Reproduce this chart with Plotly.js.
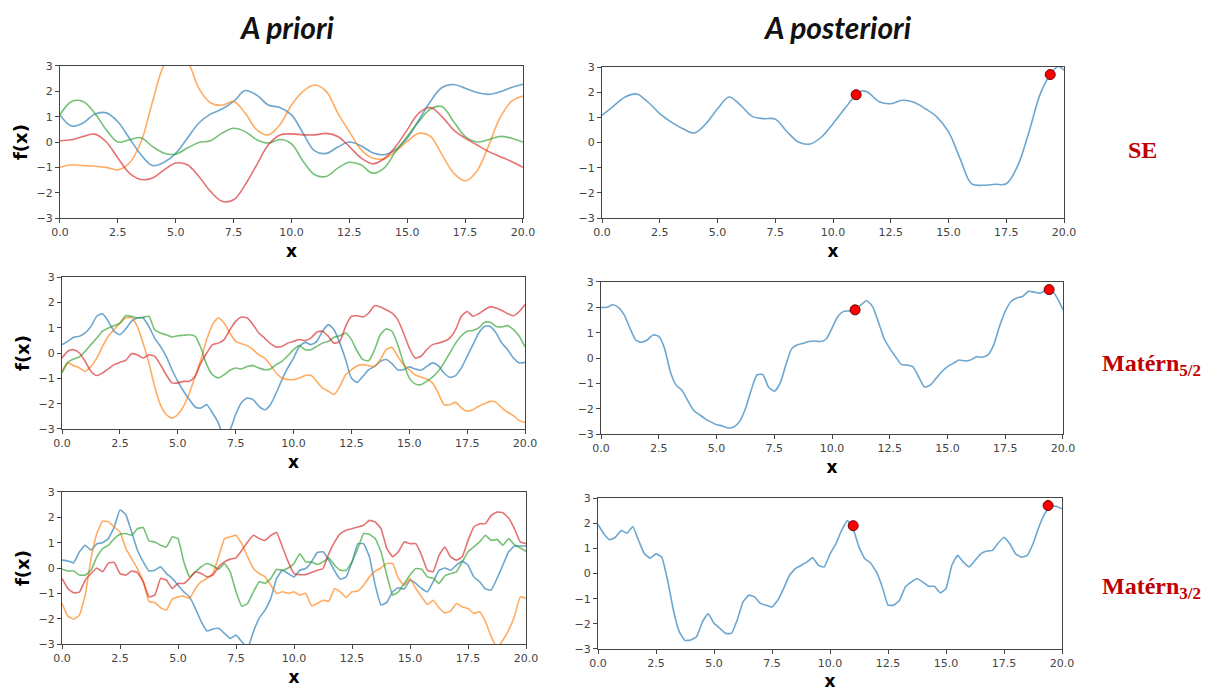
<!DOCTYPE html>
<html>
<head>
<meta charset="utf-8">
<script src="https://cdn.plot.ly/plotly-3.0.1.min.js"></script>
<style>
  html, body { margin: 0; padding: 0; background: #fff; }
  #chart { width: 1214px; height: 691px; }
</style>
</head>
<body>
<div id="chart"></div>
<script>
// Gaussian-process samples: prior draws (left) and posterior draws (right)
// for three kernels: squared exponential, Matérn 5/2 and Matérn 3/2.

const xTickVals = [0, 2.5, 5, 7.5, 10, 12.5, 15, 17.5, 20];
const xTickText = ['0.0', '2.5', '5.0', '7.5', '10.0', '12.5', '15.0', '17.5', '20.0'];
const yTickVals = [-3, -2, -1, 0, 1, 2, 3];

const columnTitles = ['A priori', 'A posteriori'];
const kernelNames = ['SE', 'Matérn', 'Matérn'];
const kernelSubs = ['', '5/2', '3/2'];

// Observed points conditioning the posterior
const obsX = [11.0, 19.4];
const obsY = [1.9, 2.7];

// ---- Squared exponential kernel (sampled every 0.5) ----
const xSE = [0, 0.5, 1, 1.5, 2, 2.5, 3, 3.5, 4, 4.5, 5, 5.5, 6, 6.5, 7, 7.5, 8, 8.5, 9, 9.5,
             10, 10.5, 11, 11.5, 12, 12.5, 13, 13.5, 14, 14.5, 15, 15.5, 16, 16.5, 17, 17.5, 18, 18.5, 19, 19.5, 20];

const sePriorBlue = [1.07, 0.63, 0.75, 1.1, 1.15, 0.8, 0.15, -0.5, -0.93, -0.8, -0.45, 0.15, 0.75, 1.1, 1.3, 1.6, 2.03, 1.85, 1.46, 1.36,
                     1.07, 0.35, -0.35, -0.45, -0.2, 0.0, -0.15, -0.42, -0.5, -0.3, 0.15, 0.87, 1.6, 2.15, 2.27, 2.12, 1.95, 1.88, 1.98, 2.15, 2.28];
const sePriorOrange = [-1.0, -0.9, -0.93, -0.96, -1.0, -1.1, -0.83, 0.0, 1.6, 3.05, 3.6, 3.2, 2.12, 1.55, 1.45, 1.6, 1.14, 0.48, 0.28, 0.68,
                       1.46, 2.0, 2.25, 2.0, 1.14, 0.41, -0.3, -0.63, -0.66, -0.37, 0.02, 0.34, 0.22, -0.5, -1.22, -1.53, -1.16, -0.18, 0.94, 1.6, 1.82];
const sePriorGreen = [1.07, 1.6, 1.6, 1.14, 0.48, 0.0, 0.09, 0.17, -0.18, -0.44, -0.48, -0.24, -0.02, 0.05, 0.35, 0.54, 0.41, 0.09, -0.04, 0.1,
                      -0.07, -0.76, -1.29, -1.36, -1.03, -0.8, -0.9, -1.23, -1.03, -0.37, 0.22, 0.81, 1.3, 1.4, 0.81, 0.22, 0.0, 0.09, 0.22, 0.15, 0.0];
const sePriorRed = [0.05, 0.09, 0.22, 0.31, 0.0, -0.63, -1.23, -1.48, -1.42, -1.1, -0.83, -0.9, -1.36, -1.95, -2.34, -2.28, -1.69, -0.9, -0.11, 0.28,
                    0.32, 0.28, 0.28, 0.34, 0.22, -0.18, -0.63, -0.86, -0.66, -0.18, 0.48, 1.14, 1.36, 1.0, 0.48, 0.15, -0.11, -0.37, -0.57, -0.77, -1.0];

const xSEPost = [0, 0.5, 1, 1.5, 2, 2.5, 3, 3.5, 4, 4.5, 5, 5.5, 6, 6.5, 7, 7.5, 8, 8.5, 9, 9.5,
                 10, 10.5, 11, 11.25, 11.5, 12, 12.5, 13, 13.5, 14, 14.5, 15, 15.5, 16, 16.5, 17, 17.5, 18, 18.5, 19, 19.5, 19.75, 20];
const sePost = [1.08, 1.45, 1.81, 1.93, 1.6, 1.15, 0.81, 0.55, 0.38, 0.75, 1.34, 1.81, 1.48, 1.04, 0.95, 0.93, 0.44, 0.02, -0.06, 0.22,
                0.75, 1.34, 1.9, 2.05, 2.0, 1.62, 1.54, 1.68, 1.6, 1.34, 1.01, 0.42, -0.64, -1.64, -1.7, -1.66, -1.64, -0.91, 0.48, 2.0, 2.82, 3.02, 2.87];

// ---- Matérn kernels (sampled every 0.25) ----
const xM = [0, 0.25, 0.5, 0.75, 1, 1.25, 1.5, 1.75, 2, 2.25, 2.5, 2.75, 3, 3.25, 3.5, 3.75, 4, 4.25, 4.5, 4.75,
            5, 5.25, 5.5, 5.75, 6, 6.25, 6.5, 6.75, 7, 7.25, 7.5, 7.75, 8, 8.25, 8.5, 8.75, 9, 9.25, 9.5, 9.75,
            10, 10.25, 10.5, 10.75, 11, 11.25, 11.5, 11.75, 12, 12.25, 12.5, 12.75, 13, 13.25, 13.5, 13.75, 14, 14.25, 14.5, 14.75,
            15, 15.25, 15.5, 15.75, 16, 16.25, 16.5, 16.75, 17, 17.25, 17.5, 17.75, 18, 18.25, 18.5, 18.75, 19, 19.25, 19.5, 19.75, 20];

const m52PriorBlue = [0.33, 0.46, 0.62, 0.66, 0.79, 1.05, 1.45, 1.55, 1.25, 0.86, 0.72, 0.95, 1.25, 1.38, 1.38, 1.05, 0.59, 0.26, -0.13, -0.66,
                      -1.12, -1.51, -1.84, -2.13, -2.17, -2.04, -2.37, -2.76, -3.35, -3.05, -2.43, -1.95, -1.78, -1.84, -2.1, -2.24, -2.04, -1.58, -1.05, -0.59,
                      -0.2, 0.26, 0.42, 0.33, 0.46, 0.86, 1.12, 0.92, 0.39, -0.26, -0.99, -1.16, -0.92, -0.66, -0.53, -0.33, -0.26, -0.42, -0.66, -0.66,
                      -0.55, -0.63, -0.68, -0.53, -0.39, -0.5, -0.79, -0.96, -0.89, -0.59, -0.13, 0.33, 0.79, 1.05, 1.05, 0.79, 0.39, 0.13, -0.2, -0.39, -0.37];
const m52PriorOrange = [-0.72, -0.39, -0.5, -0.59, -0.72, -0.53, -0.2, 0.26, 0.66, 0.92, 1.18, 1.38, 1.4, 1.05, 0.39, -0.39, -1.32, -2.04, -2.43, -2.57,
                        -2.43, -2.1, -1.58, -0.92, -0.26, 0.53, 1.12, 1.38, 1.18, 0.79, 0.46, 0.37, 0.29, 0.13, -0.07, -0.2, -0.46, -0.79, -0.99, -1.05,
                        -1.05, -0.99, -0.89, -0.88, -1.12, -1.38, -1.51, -1.64, -1.32, -0.86, -0.66, -0.5, -0.46, -0.5, -0.53, -0.26, 0.13, 0.22, -0.13, -0.46,
                        -0.66, -0.86, -0.95, -1.03, -1.18, -1.58, -2.04, -2.04, -1.95, -2.17, -2.3, -2.24, -2.1, -2.0, -1.91, -1.95, -2.17, -2.34, -2.47, -2.67, -2.74];
const m52PriorGreen = [-0.79, -0.37, -0.24, -0.16, 0.07, 0.33, 0.59, 0.86, 0.99, 1.08, 1.18, 1.47, 1.45, 1.38, 1.41, 1.45, 0.92, 0.79, 0.72, 0.63,
                       0.68, 0.7, 0.72, 0.66, 0.2, -0.46, -0.86, -0.99, -0.86, -0.68, -0.59, -0.63, -0.53, -0.5, -0.59, -0.66, -0.63, -0.46, -0.33, -0.11,
                       0.13, 0.29, 0.13, 0.13, 0.26, 0.39, 0.46, 0.62, 0.68, 0.79, 0.53, 0.07, -0.26, -0.3, 0.13, 0.72, 0.95, 0.86, 0.33, -0.39,
                       -0.99, -1.22, -1.25, -1.12, -0.95, -0.72, -0.39, 0.0, 0.39, 0.68, 0.86, 0.89, 0.99, 1.21, 1.21, 1.05, 1.03, 1.08, 0.92, 0.66, 0.24];
const m52PriorRed = [-0.2, 0.07, 0.13, 0.0, -0.33, -0.72, -0.89, -0.79, -0.63, -0.46, -0.37, -0.29, -0.03, -0.07, -0.2, -0.07, -0.13, -0.46, -0.86, -1.18,
                     -1.18, -1.12, -1.12, -0.92, -0.39, 0.0, 0.33, 0.39, 0.53, 0.92, 1.25, 1.42, 1.38, 1.12, 0.79, 0.59, 0.37, 0.24, 0.26, 0.39,
                     0.46, 0.53, 0.49, 0.59, 0.82, 0.86, 0.66, 0.39, 0.46, 1.05, 1.45, 1.47, 1.42, 1.58, 1.87, 1.82, 1.71, 1.58, 1.32, 0.79,
                     0.2, -0.2, -0.13, 0.13, 0.33, 0.39, 0.46, 0.59, 0.92, 1.45, 1.64, 1.45, 1.55, 1.71, 1.82, 1.78, 1.68, 1.55, 1.47, 1.64, 1.91];
const m52Post = [2.0, 2.0, 2.1, 2.0, 1.7, 1.18, 0.71, 0.62, 0.71, 0.91, 0.85, 0.38, -0.54, -1.07, -1.27, -1.67, -2.06, -2.23, -2.39, -2.52,
                 -2.63, -2.68, -2.76, -2.72, -2.5, -2.0, -1.27, -0.67, -0.65, -1.14, -1.31, -1.0, -0.28, 0.36, 0.52, 0.58, 0.65, 0.67, 0.65, 0.75,
                 1.18, 1.64, 1.84, 1.86, 1.9, 2.1, 2.26, 2.04, 1.44, 0.78, 0.38, 0.05, -0.25, -0.28, -0.34, -0.74, -1.14, -1.07, -0.81, -0.54,
                 -0.34, -0.21, -0.08, -0.12, -0.08, 0.05, 0.03, 0.12, 0.52, 1.24, 1.84, 2.23, 2.37, 2.43, 2.63, 2.6, 2.56, 2.66, 2.68, 2.37, 1.9];

const m32PriorBlue = [0.31, 0.28, 0.2, 0.64, 0.9, 0.7, 0.96, 1.0, 1.16, 1.62, 2.3, 2.1, 1.42, 0.7, 0.24, -0.12, -0.09, 0.05, -0.22, -0.41,
                      -0.68, -0.94, -1.14, -1.6, -2.12, -2.49, -2.41, -2.38, -2.58, -2.78, -2.65, -2.91, -3.17, -2.51, -1.98, -1.66, -1.2, -0.41, -0.09, -0.22,
                      -0.35, -0.09, -0.02, 0.24, 0.61, 0.64, 0.31, -0.12, -0.44, -0.35, 0.24, 0.96, 0.96, 0.44, -0.68, -1.46, -1.36, -0.94, -0.78, -0.83,
                      -0.48, -0.61, -0.81, -0.94, -0.54, -0.09, 0.0, -0.09, 0.11, 0.27, 0.11, -0.35, -0.54, -0.83, -0.87, -0.41, 0.11, 0.64, 0.87, 0.87, 0.87];
const m32PriorOrange = [-1.4, -1.9, -2.02, -1.86, -1.07, 0.37, 1.36, 1.85, 1.82, 1.62, 1.42, 0.77, 0.37, -0.02, -0.54, -1.33, -1.36, -1.57, -1.66, -1.23,
                        -1.14, -1.11, -1.2, -0.81, -0.54, -0.41, -0.22, 0.44, 1.16, 1.23, 1.29, 0.96, 0.44, -0.02, -0.22, -0.35, -0.68, -1.0, -0.94, -1.0,
                        -0.94, -1.07, -1.0, -1.49, -1.4, -1.27, -1.31, -0.81, -0.94, -1.17, -0.94, -0.91, -0.68, -0.35, -0.12, 0.0, 0.18, 0.18, -0.41, -0.68,
                        -0.41, -0.81, -1.14, -1.44, -1.27, -1.57, -1.77, -1.7, -1.4, -1.53, -1.6, -1.79, -1.73, -2.12, -2.71, -3.15, -2.85, -2.45, -1.92, -1.14, -1.2];
const m32PriorGreen = [-0.05, -0.12, -0.12, -0.28, -0.28, -0.09, 0.44, 0.77, 0.9, 1.16, 1.33, 1.36, 1.29, 1.55, 1.6, 1.06, 1.03, 0.9, 0.83, 1.23,
                       1.16, 0.24, -0.35, -0.15, 0.05, 0.18, 0.09, -0.05, 0.18, -0.15, -0.94, -1.51, -1.4, -0.94, -0.54, -0.61, -0.41, -0.05, -0.09, 0.0,
                       0.18, 0.57, 0.24, 0.24, 0.14, 0.24, 0.4, 0.11, -0.09, -0.09, 0.24, 0.77, 1.36, 1.33, 1.16, 0.64, -0.28, -1.07, -0.94, -0.61,
                       -0.28, -0.02, -0.05, -0.35, -0.41, -0.61, -0.31, -0.22, -0.15, 0.24, 0.64, 0.83, 1.03, 1.29, 1.09, 1.13, 0.9, 1.16, 0.92, 0.79, 0.66];
const m32PriorRed = [-0.41, -0.81, -0.98, -0.95, -0.48, -0.22, 0.0, -0.15, 0.2, 0.22, -0.22, -0.28, -0.12, -0.18, -0.54, -1.14, -1.07, -0.41, -0.48, -0.81,
                     -0.61, -0.61, -0.41, -0.15, -0.22, -0.35, -0.28, 0.05, 0.24, 0.35, 0.4, 0.7, 1.03, 1.29, 1.16, 1.09, 1.29, 1.4, 0.83, 0.24,
                     -0.22, -0.26, -0.26, -0.18, -0.09, -0.02, 0.57, 1.03, 1.36, 1.49, 1.55, 1.62, 1.69, 1.88, 1.82, 1.55, 0.77, 0.44, 0.64, 1.03,
                     0.96, 0.96, 0.5, -0.09, -0.15, 0.5, 0.83, 0.44, 0.31, 0.44, 1.09, 1.62, 1.75, 1.75, 2.08, 2.21, 2.18, 1.97, 1.55, 1.03, 0.96];
const m32Post = [1.95, 1.58, 1.34, 1.44, 1.71, 1.6, 1.87, 1.31, 0.78, 0.61, 0.78, 0.65, -0.27, -1.46, -2.31, -2.66, -2.64, -2.51, -1.92, -1.59,
                 -1.98, -2.18, -2.38, -2.38, -1.85, -1.13, -0.86, -0.93, -1.19, -1.26, -1.33, -1.06, -0.6, -0.07, 0.19, 0.32, 0.45, 0.63, 0.32, 0.26,
                 0.78, 1.18, 1.71, 2.1, 1.77, 1.05, 0.59, 0.42, 0.06, -0.53, -1.26, -1.26, -1.06, -0.53, -0.34, -0.2, -0.34, -0.51, -0.51, -0.77,
                 -0.6, 0.32, 0.72, 0.45, 0.26, 0.52, 0.78, 0.89, 0.92, 1.21, 1.44, 1.18, 0.78, 0.65, 0.72, 1.18, 1.84, 2.37, 2.68, 2.67, 2.57];

// matplotlib default cycle
const C = { blue: '#1f77b4', orange: '#ff7f0e', green: '#2ca02c', red: '#d62728' };

function line(x, y, color, axes, smoothing) {
  return {
    type: 'scatter', mode: 'lines', x: x, y: y,
    xaxis: axes[0], yaxis: axes[1],
    line: { color: color, width: 1.6, shape: 'spline', smoothing: smoothing },
    opacity: 0.65, hoverinfo: 'skip'
  };
}
function obs(axes) {
  return {
    type: 'scatter', mode: 'markers', x: obsX, y: obsY,
    xaxis: axes[0], yaxis: axes[1],
    marker: { color: '#ff0000', size: 10, line: { color: '#6b0000', width: 1 } },
    hoverinfo: 'skip'
  };
}

const A = {
  tl: ['x', 'y'], tr: ['x2', 'y2'],
  ml: ['x3', 'y3'], mr: ['x4', 'y4'],
  bl: ['x5', 'y5'], br: ['x6', 'y6']
};

const traces = [
  line(xSE, sePriorBlue, C.blue, A.tl, 1.0),
  line(xSE, sePriorOrange, C.orange, A.tl, 1.0),
  line(xSE, sePriorGreen, C.green, A.tl, 1.0),
  line(xSE, sePriorRed, C.red, A.tl, 1.0),
  line(xSEPost, sePost, C.blue, A.tr, 1.0),
  obs(A.tr),

  line(xM, m52PriorBlue, C.blue, A.ml, 0.6),
  line(xM, m52PriorOrange, C.orange, A.ml, 0.6),
  line(xM, m52PriorGreen, C.green, A.ml, 0.6),
  line(xM, m52PriorRed, C.red, A.ml, 0.6),
  line(xM, m52Post, C.blue, A.mr, 0.6),
  obs(A.mr),

  line(xM, m32PriorBlue, C.blue, A.bl, 0.3),
  line(xM, m32PriorOrange, C.orange, A.bl, 0.3),
  line(xM, m32PriorGreen, C.green, A.bl, 0.3),
  line(xM, m32PriorRed, C.red, A.bl, 0.3),
  line(xM, m32Post, C.blue, A.br, 0.3),
  obs(A.br)
];

function xax(domain, anchor) {
  return {
    domain: domain, anchor: anchor, range: [0, 20],
    tickvals: xTickVals, ticktext: xTickText,
    ticks: 'outside', ticklen: 4, tickcolor: '#444', tickwidth: 1,
    showline: true, mirror: true, linecolor: '#444', linewidth: 1,
    showgrid: false, zeroline: false, fixedrange: true,
    tickfont: { family: 'DejaVu Sans', size: 11, color: '#444' },
    title: { text: '<b>x</b>', font: { family: 'DejaVu Sans', size: 17, color: '#000' }, standoff: 6 }
  };
}
function yax(domain, anchor, withTitle) {
  const ax = {
    domain: domain, anchor: anchor, range: [-3, 3],
    tickvals: yTickVals,
    ticks: 'outside', ticklen: 4, tickcolor: '#444', tickwidth: 1,
    showline: true, mirror: true, linecolor: '#444', linewidth: 1,
    showgrid: false, zeroline: false, fixedrange: true,
    tickfont: { family: 'DejaVu Sans', size: 11, color: '#444' }
  };
  if (withTitle) {
    ax.title = { text: '<b>f(x)</b>', font: { family: 'DejaVu Sans', size: 18, color: '#000' }, standoff: 4 };
  }
  return ax;
}

const labelFont = { family: 'Liberation Serif', size: 24, color: '#c00000' };
const headFont = { family: 'Lato', size: 30, color: '#111' };

function kernelLabel(i) {
  const sub = kernelSubs[i]
    ? '<sub><span style="font-size:17px">' + kernelSubs[i] + '</span></sub>'
    : '';
  return '<b>' + kernelNames[i] + sub + '</b>';
}

const layout = {
  width: 1214, height: 691,
  margin: { l: 0, r: 0, t: 0, b: 0 },
  paper_bgcolor: '#fff', plot_bgcolor: '#fff',
  showlegend: false,
  xaxis:  xax([0.0494, 0.4308], 'y'),
  yaxis:  yax([0.6845, 0.9045], 'x', true),
  xaxis2: xax([0.4959, 0.8765], 'y2'),
  yaxis2: yax([0.6845, 0.9030], 'x2', false),
  xaxis3: xax([0.0511, 0.4325], 'y3'),
  yaxis3: yax([0.3792, 0.5991], 'x3', true),
  xaxis4: xax([0.4951, 0.8756], 'y4'),
  yaxis4: yax([0.3719, 0.5919], 'x4', false),
  xaxis5: xax([0.0511, 0.4333], 'y5'),
  yaxis5: yax([0.0680, 0.2880], 'x5', true),
  xaxis6: xax([0.4926, 0.8748], 'y6'),
  yaxis6: yax([0.0608, 0.2793], 'x6', false),
  annotations: [
    { text: '<b><i>' + columnTitles[0] + '</i></b>', xref: 'paper', yref: 'paper', x: 0.2364, y: 0.961,
      xanchor: 'center', yanchor: 'middle', showarrow: false, font: headFont },
    { text: '<b><i>' + columnTitles[1] + '</i></b>', xref: 'paper', yref: 'paper', x: 0.6895, y: 0.961,
      xanchor: 'center', yanchor: 'middle', showarrow: false, font: headFont },
    { text: kernelLabel(0), xref: 'paper', yref: 'paper', x: 0.9407, y: 0.7829,
      xanchor: 'center', yanchor: 'middle', showarrow: false, font: labelFont },
    { text: kernelLabel(1), xref: 'paper', yref: 'paper', x: 0.9489, y: 0.4718,
      xanchor: 'center', yanchor: 'middle', showarrow: false, font: labelFont },
    { text: kernelLabel(2), xref: 'paper', yref: 'paper', x: 0.9489, y: 0.149,
      xanchor: 'center', yanchor: 'middle', showarrow: false, font: labelFont }
  ]
};

Plotly.newPlot('chart', traces, layout, { staticPlot: true, displayModeBar: false });
</script>
</body>
</html>
